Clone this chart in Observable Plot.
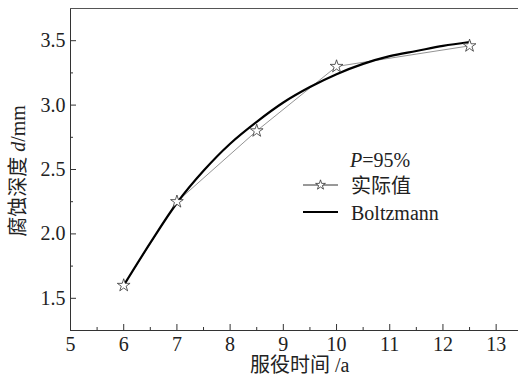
<!DOCTYPE html>
<html><head><meta charset="utf-8">
<script src="https://cdn.jsdelivr.net/npm/d3@7"></script>
<script src="https://cdn.jsdelivr.net/npm/@observablehq/plot@0.6"></script>
<style>
body{margin:0;background:#fff;}
#wrap{position:relative;width:518px;height:376px;overflow:hidden;font-family:'Liberation Serif','Noto Sans CJK SC',serif;color:#222;}
.lbl{position:absolute;white-space:nowrap;font-size:20px;line-height:20px;}
svg text{font-family:'Liberation Serif',serif;}
</style></head>
<body><div id="wrap"></div>
<script>
// measured data
const years = [6, 7, 8.5, 10, 12.5];
const depth = [1.60, 2.25, 2.80, 3.30, 3.46];
// Boltzmann fitted curve
const fitYears = [6, 6.5, 7, 7.5, 8, 8.5, 9, 9.5, 10, 10.5, 11, 11.5, 12, 12.5];
const fitDepth = [1.60, 1.93, 2.24, 2.49, 2.70, 2.87, 3.02, 3.14, 3.24, 3.32, 3.38, 3.42, 3.46, 3.49];
// ticks
const xTicks = [5, 6, 7, 8, 9, 10, 11, 12, 13];
const xMinor = [5.5, 6.5, 7.5, 8.5, 9.5, 10.5, 11.5, 12.5];
const yTicks = [1.5, 2.0, 2.5, 3.0, 3.5];
const yMinor = [1.75, 2.25, 2.75, 3.25];
const xLabel = "服役时间 /a";
const legendP = "=95%";
const seriesNames = ["实际值", "Boltzmann"];

const measured = years.map((x, i) => ({x, y: depth[i]}));
const fit = fitYears.map((x, i) => ({x, y: fitDepth[i]}));

const W = 518, H = 376, mL = 70, mT = 8, mB = 46, mR = 0;
const fw = W - mL - mR, fh = H - mT - mB;

const chart = Plot.plot({
  width: W, height: H,
  marginLeft: mL, marginTop: mT, marginBottom: mB, marginRight: mR,
  style: {fontFamily: "'Liberation Serif',serif", fontSize: "20px", background: "white", color: "#222"},
  x: {domain: [5, 13.42]},
  y: {domain: [1.25, 3.75]},
  marks: [
    Plot.axisX(xTicks, {tickSize: 0, tickPadding: 6, label: null, fontSize: 20}),
    Plot.axisY(yTicks, {tickSize: 0, tickPadding: 5, label: null, fontSize: 20, tickFormat: d3.format(".1f")}),
    Plot.tickX(xTicks, {x: d => d, insetTop: fh - 6, stroke: "#333"}),
    Plot.tickX(xMinor, {x: d => d, insetTop: fh - 3, stroke: "#333"}),
    Plot.tickY(yTicks, {y: d => d, insetRight: fw - 6, stroke: "#333"}),
    Plot.tickY(yMinor, {y: d => d, insetRight: fw - 3, stroke: "#333"}),
    Plot.frame({anchor: "left", stroke: "#333"}),
    Plot.frame({anchor: "top", stroke: "#555"}),
    Plot.frame({anchor: "bottom", stroke: "#333"}),
    Plot.line(measured, {x: "x", y: "y", stroke: "#777", strokeWidth: 0.8}),
    Plot.line(fit, {x: "x", y: "y", stroke: "#000", strokeWidth: 2.2, curve: "catmull-rom"}),
    Plot.dot(measured, {x: "x", y: "y", symbol: "star", r: 4, stroke: "#333", strokeWidth: 0.8, fill: "white"})
  ]
});
const wrap = document.getElementById("wrap");
wrap.appendChild(chart);

function add(html, css) {
  const d = document.createElement("div");
  d.className = "lbl";
  d.innerHTML = html;
  Object.assign(d.style, css);
  wrap.appendChild(d);
  return d;
}
// axis titles
add(xLabel, {left: "250px", top: "355px"});
add("腐蚀深度 <i>d</i>/mm", {left: "8px", top: "181px", transform: "translate(0,-50%) rotate(-90deg) translate(-50%,0)", transformOrigin: "0 0"});
// legend
add("<i>P</i>" + legendP, {left: "350px", top: "150px"});
add(seriesNames[0], {left: "351px", top: "176px"});
add(seriesNames[1], {left: "351px", top: "203px"});
const ns = "http://www.w3.org/2000/svg";
const leg = document.createElementNS(ns, "svg");
leg.setAttribute("width", 60); leg.setAttribute("height", 60);
leg.style.position = "absolute"; leg.style.left = "295px"; leg.style.top = "170px";
leg.innerHTML = `<line x1="8" x2="43" y1="15" y2="15" stroke="#333" stroke-width="1"/>
<path transform="translate(25.5,15)" d="${d3.symbol(d3.symbolStar, 30)()}" fill="white" stroke="#333" stroke-width="0.8"/>
<line x1="8" x2="43" y1="42" y2="42" stroke="#000" stroke-width="2"/>`;
wrap.appendChild(leg);
</script></body></html>
